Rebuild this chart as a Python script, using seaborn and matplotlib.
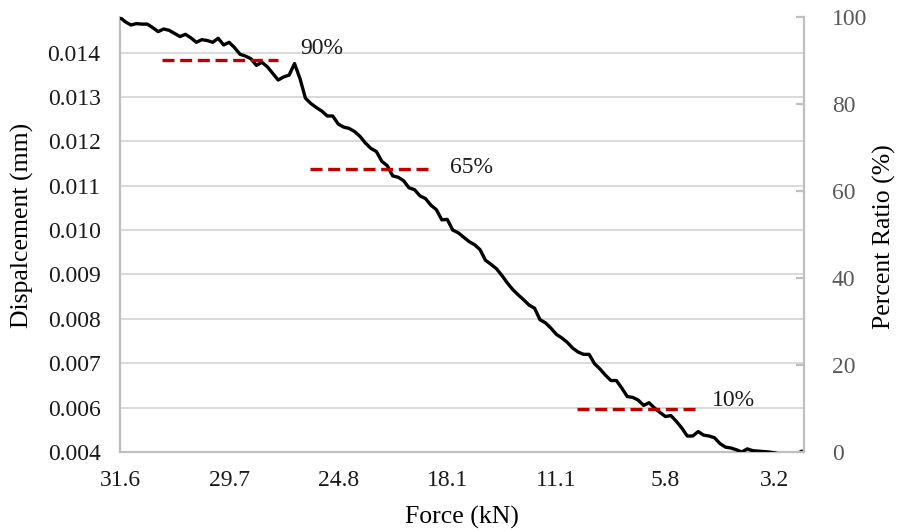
import matplotlib
matplotlib.use("Agg")
import matplotlib.pyplot as plt
import numpy as np
import pandas as pd
import seaborn as sns

# Displacement readings (mm), one per load step, from highest to lowest force
displacement_mm = [
    0.01479, 0.01469, 0.01462, 0.01465, 0.01464, 0.01464, 0.01456, 0.01447, 0.01453, 0.01450,
    0.01443, 0.01436, 0.01441, 0.01433, 0.01423, 0.01429, 0.01427, 0.01423, 0.01432, 0.01417,
    0.01423, 0.01411, 0.01396, 0.01392, 0.01386, 0.01371, 0.01378, 0.01368, 0.01353, 0.01338,
    0.01345, 0.01349, 0.01375, 0.01341, 0.01297, 0.01285, 0.01276, 0.01268, 0.01257, 0.01257,
    0.01239, 0.01232, 0.01229, 0.01222, 0.01211, 0.01196, 0.01184, 0.01177, 0.01155, 0.01145,
    0.01122, 0.01119, 0.01111, 0.01095, 0.01091, 0.01077, 0.01071, 0.01056, 0.01046, 0.01023,
    0.01024, 0.01000, 0.00994, 0.00984, 0.00974, 0.00967, 0.00956, 0.00932, 0.00923, 0.00913,
    0.00898, 0.00881, 0.00866, 0.00854, 0.00843, 0.00831, 0.00824, 0.00798, 0.00791, 0.00779,
    0.00765, 0.00757, 0.00747, 0.00734, 0.00725, 0.00720, 0.00720, 0.00699, 0.00687, 0.00673,
    0.00661, 0.00661, 0.00644, 0.00625, 0.00623, 0.00617, 0.00605, 0.00611, 0.00599, 0.00589,
    0.00580, 0.00582, 0.00569, 0.00554, 0.00536, 0.00536, 0.00546, 0.00538, 0.00536, 0.00532,
    0.00519, 0.00511, 0.00509, 0.00505, 0.00500, 0.00507, 0.00503, 0.00502, 0.00501, 0.00500,
    0.00498, 0.00495, 0.00495, 0.00495, 0.00495, 0.00502,
]

# Force (kN) shown every 20th load step along the horizontal axis
force_tick_labels = ["31.6", "29.7", "24.8", "18.1", "11.1", "5.8", "3.2"]

# Displacement axis ticks and their printed labels
disp_ticks = [0.005, 0.006, 0.007, 0.008, 0.009, 0.010, 0.011, 0.012, 0.013, 0.014]
disp_tick_labels = ["0.004", "0.006", "0.007", "0.008", "0.009",
                    "0.010", "0.011", "0.012", "0.013", "0.014"]

# Percent ratio axis
ratio_ticks = [0, 20, 40, 60, 80, 100]

# Reference ratio levels
threshold_pct = [90, 65, 10]
threshold_labels = ["90%", "65%", "10%"]

df = pd.DataFrame({"step": np.arange(len(displacement_mm)),
                   "displacement": displacement_mm})

sns.set_theme(style="white")
plt.rcParams["font.family"] = ["Liberation Serif", "DejaVu Serif"]

W, H = 899, 532
fig = plt.figure(figsize=(W / 100, H / 100), dpi=100)
ax = fig.add_axes([120 / W, 80 / H, 684 / W, 435 / H])

grid_col = "#d9d9d9"
spine_col = "#bfbfbf"
tick_fs = 17
title_fs = 18.5

# horizontal gridlines behind the curve
for t in disp_ticks[1:]:
    ax.axhline(t, color=grid_col, lw=1.4, zorder=0)

sns.lineplot(data=df, x="step", y="displacement", ax=ax, color="black",
             lw=2.4, zorder=3, clip_on=True)

ax.set_xlim(0, 125.4)
ax.set_ylim(0.005, 0.0148)
step_every = 20
ax.set_xticks([i * step_every for i in range(len(force_tick_labels))])
ax.set_xticklabels(force_tick_labels)
ax.set_yticks(disp_ticks)
ax.set_yticklabels(disp_tick_labels)
ax.tick_params(axis="both", length=0, labelsize=tick_fs, colors="#1a1a1a")
ax.tick_params(axis="y", pad=14)
ax.tick_params(axis="x", pad=13)

for side in ["top", "right"]:
    ax.spines[side].set_visible(False)
for side in ["left", "bottom"]:
    ax.spines[side].set_color(spine_col)
    ax.spines[side].set_linewidth(1.6)

ax.set_xlabel("Force (kN)", fontsize=title_fs, color="black", va="center")
ax.set_ylabel("Dispalcement (mm)", fontsize=title_fs, color="black", va="center")
ax.xaxis.set_label_coords(0.5, -0.15)
ax.yaxis.set_label_coords(-0.143, 0.52)

# secondary percent axis
ax2 = ax.twinx()
ax2.set_ylim(0, 100)
ax2.set_yticks(ratio_ticks)
ax2.tick_params(axis="y", direction="in", length=6, width=1.6, color=spine_col,
                labelsize=tick_fs, labelcolor="#595959", pad=20)
for side in ["top", "left", "bottom"]:
    ax2.spines[side].set_visible(False)
ax2.spines["right"].set_color(spine_col)
ax2.spines["right"].set_linewidth(1.6)
ax2.set_ylabel("Percent Ratio (%)", fontsize=title_fs, color="black", va="center",
               rotation=90)
ax2.yaxis.set_label_coords(1.118, 0.494)

spans = [(7.7, 29.0), (34.9, 56.5), (83.7, 105.8)]
text_offsets = [(22, 12), (22, 2), (15, 8)]
for pct, lab, (x0, x1), (dx, dy) in zip(threshold_pct, threshold_labels, spans, text_offsets):
    ax2.plot([x0, x1], [pct, pct], color="#c00000", lw=2.4,
             dashes=(3.6, 1.7), zorder=4)
    ax2.annotate(lab, xy=(x1, pct), xytext=(dx, dy), textcoords="offset pixels",
                 ha="left", va="center", fontsize=tick_fs, color="#1a1a1a")

fig.savefig("out.png", dpi=100)
